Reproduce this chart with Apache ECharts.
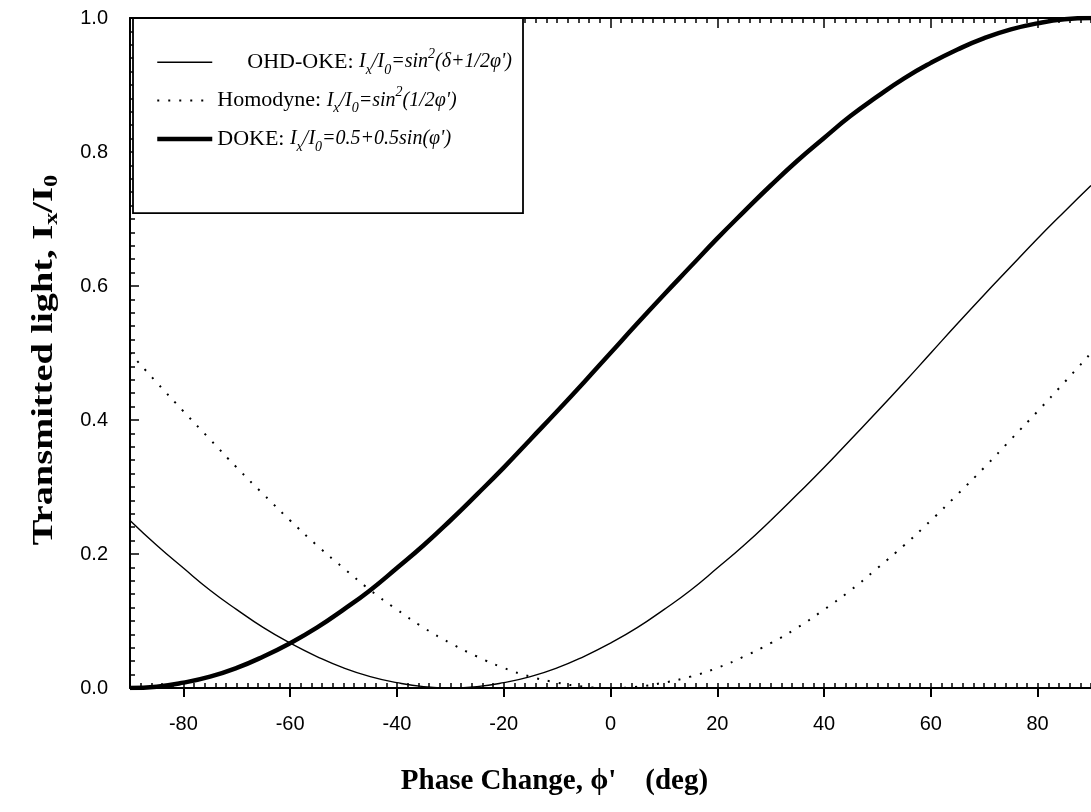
<!DOCTYPE html>
<html>
<head>
<meta charset="utf-8">
<script src="https://cdn.jsdelivr.net/npm/echarts@6/dist/echarts.min.js"></script>
<style>html,body{margin:0;padding:0;background:#fff;}#chart{width:1091px;height:812px;}</style>
</head>
<body>
<div id="chart"></div>
<script>
// Phase change (deg)
const phi = [-90,-85,-80,-75,-70,-65,-60,-55,-50,-45,-40,-35,-30,-25,-20,-15,-10,-5,0,5,10,15,20,25,30,35,40,45,50,55,60,65,70,75,80,85,90];
// OHD-OKE (thin solid)
const ohdOke = [0.250,0.213,0.179,0.146,0.117,0.090,0.067,0.047,0.030,0.017,0.008,0.002,0.000,0.002,0.008,0.017,0.030,0.047,0.067,0.090,0.117,0.146,0.179,0.213,0.250,0.289,0.329,0.371,0.413,0.456,0.500,0.544,0.587,0.629,0.671,0.711,0.750];
// Homodyne (dotted)
const homodyne = [0.500,0.456,0.413,0.371,0.329,0.289,0.250,0.213,0.179,0.146,0.117,0.090,0.067,0.047,0.030,0.017,0.008,0.002,0.000,0.002,0.008,0.017,0.030,0.047,0.067,0.090,0.117,0.146,0.179,0.213,0.250,0.289,0.329,0.371,0.413,0.456,0.500];
// DOKE (thick solid)
const doke = [0.000,0.002,0.008,0.017,0.030,0.047,0.067,0.090,0.117,0.146,0.179,0.213,0.250,0.289,0.329,0.371,0.413,0.456,0.500,0.544,0.587,0.629,0.671,0.711,0.750,0.787,0.821,0.854,0.883,0.910,0.933,0.953,0.970,0.983,0.992,0.998,1.000];
// Tick labels
const xMajorTicks = [-80,-60,-40,-20,0,20,40,60,80];
const seriesNames = ['OHD-OKE','Homodyne','DOKE'];

const zip = (xs, ys) => xs.map((x, i) => [x, ys[i]]);
const serif = '"Liberation Serif","Times New Roman",serif';
const sans = '"Liberation Sans",Arial,sans-serif';

const lineWidths = {'OHD-OKE': 1.4, 'Homodyne': 2, 'DOKE': 4.5};
const lineTypes = {'OHD-OKE': 'solid', 'Homodyne': [2, 9], 'DOKE': 'solid'};

const legendText = {
  'OHD-OKE': '{g|}{n|OHD-OKE: }{i|I}{s|x}{i|/I}{s|0}{i|=sin}{p|2}{i|(δ+1/2φ\')}',
  'Homodyne': '{n|Homodyne: }{i|I}{s|x}{i|/I}{s|0}{i|=sin}{p|2}{i|(1/2φ\')}',
  'DOKE': '{n|DOKE: }{i|I}{s|x}{i|/I}{s|0}{i|=0.5+0.5sin(φ\')}'
};

const chart = echarts.init(document.getElementById('chart'), null, {renderer: 'canvas'});
const baseX = {type: 'value', min: -90, max: 90, splitLine: {show: false}};
const baseY = {type: 'value', min: 0, max: 1, splitLine: {show: false}};
chart.setOption({
  animation: false,
  backgroundColor: '#fff',
  grid: {left: 130, right: -1, top: 18, bottom: 124},
  legend: {
    data: seriesNames.map(n => ({name: n, lineStyle: {width: lineWidths[n], type: lineTypes[n], color: '#000'}})),
    orient: 'vertical',
    left: 133, top: 18,
    padding: [29, 11, 59, 22],
    itemGap: 8,
    itemWidth: 55, itemHeight: 38,
    backgroundColor: '#fff',
    borderColor: '#000', borderWidth: 1.8,
    itemStyle: {color: 'rgba(0,0,0,0)', borderColor: 'rgba(0,0,0,0)', borderWidth: 0, opacity: 0},
    formatter: name => legendText[name],
    textStyle: {
      color: '#000', fontFamily: serif, fontSize: 22,
      rich: {
        g: {width: 30, lineHeight: 30},
        n: {fontFamily: serif, fontSize: 22, lineHeight: 30, color: '#000'},
        i: {fontFamily: serif, fontSize: 20, fontStyle: 'italic', lineHeight: 30, color: '#000'},
        s: {fontFamily: serif, fontSize: 14, fontStyle: 'italic', lineHeight: 14, verticalAlign: 'bottom', color: '#000'},
        p: {fontFamily: serif, fontSize: 14, fontStyle: 'italic', lineHeight: 14, verticalAlign: 'top', color: '#000'}
      }
    }
  },
  graphic: [{
    type: 'text',
    x: 44, y: 360,
    rotation: Math.PI / 2,
    scaleX: 1.28,
    z: 10,
    style: {
      text: '{b|Transmitted light, I}{s|x}{b|/I}{s|0}',
      align: 'center', verticalAlign: 'middle',
      fill: '#000',
      font: 'bold 30px ' + serif,
      rich: {
        b: {fontFamily: serif, fontWeight: 'bold', fontSize: 30, lineHeight: 36, fill: '#000'},
        s: {fontFamily: serif, fontWeight: 'bold', fontSize: 19, lineHeight: 19, verticalAlign: 'bottom', fill: '#000'}
      }
    }
  }],
  xAxis: [
    Object.assign({}, baseX, {
      position: 'bottom',
      axisLine: {show: true, onZero: false, lineStyle: {color: '#000', width: 2}},
      axisTick: {show: true, inside: false, length: 9, customValues: xMajorTicks, lineStyle: {color: '#000', width: 2}},
      axisLabel: {show: true, customValues: xMajorTicks, margin: 26, color: '#000', fontFamily: sans, fontSize: 20},
      name: 'Phase Change, ϕ\'    (deg)',
      nameLocation: 'middle',
      nameGap: 79,
      nameTextStyle: {color: '#000', fontFamily: serif, fontWeight: 'bold', fontSize: 29, padding: [0, 112, 0, 0]}
    }),
    Object.assign({}, baseX, {
      position: 'bottom', interval: 2,
      axisLine: {show: false, onZero: false},
      axisTick: {show: true, inside: true, length: 5, lineStyle: {color: '#000', width: 1.5}},
      axisLabel: {show: false}
    }),
    Object.assign({}, baseX, {
      position: 'top', interval: 2,
      axisLine: {show: true, onZero: false, lineStyle: {color: '#000', width: 2}},
      axisTick: {show: true, inside: true, length: 5, lineStyle: {color: '#000', width: 1.5}},
      axisLabel: {show: false}
    }),
    Object.assign({}, baseX, {
      position: 'top',
      axisLine: {show: false, onZero: false},
      axisTick: {show: true, inside: true, length: 10, customValues: xMajorTicks, lineStyle: {color: '#000', width: 1.5}},
      axisLabel: {show: false}
    })
  ],
  yAxis: [
    Object.assign({}, baseY, {
      position: 'left', interval: 0.2,
      axisLine: {show: true, onZero: false, lineStyle: {color: '#000', width: 2}},
      axisTick: {show: true, inside: true, length: 9, lineStyle: {color: '#000', width: 1.5}},
      axisLabel: {show: true, margin: 22, color: '#000', fontFamily: sans, fontSize: 20, formatter: v => v.toFixed(1)}
    }),
    Object.assign({}, baseY, {
      position: 'left', interval: 0.02,
      axisLine: {show: false, onZero: false},
      axisTick: {show: true, inside: true, length: 5, lineStyle: {color: '#000', width: 1.5}},
      axisLabel: {show: false}
    })
  ],
  series: [
    {
      name: 'OHD-OKE', type: 'line', xAxisIndex: 0, yAxisIndex: 0,
      data: zip(phi, ohdOke), smooth: true, symbol: 'none',
      lineStyle: {color: '#000', width: lineWidths['OHD-OKE'], type: lineTypes['OHD-OKE']}, itemStyle: {color: '#000'}
    },
    {
      name: 'Homodyne', type: 'line', xAxisIndex: 0, yAxisIndex: 0,
      data: zip(phi, homodyne), smooth: true, symbol: 'none',
      lineStyle: {color: '#000', width: lineWidths['Homodyne'], type: lineTypes['Homodyne']}, itemStyle: {color: '#000'}
    },
    {
      name: 'DOKE', type: 'line', xAxisIndex: 0, yAxisIndex: 0,
      data: zip(phi, doke), smooth: true, symbol: 'none',
      lineStyle: {color: '#000', width: lineWidths['DOKE'], type: lineTypes['DOKE']}, itemStyle: {color: '#000'}
    }
  ]
});
</script>
</body>
</html>
